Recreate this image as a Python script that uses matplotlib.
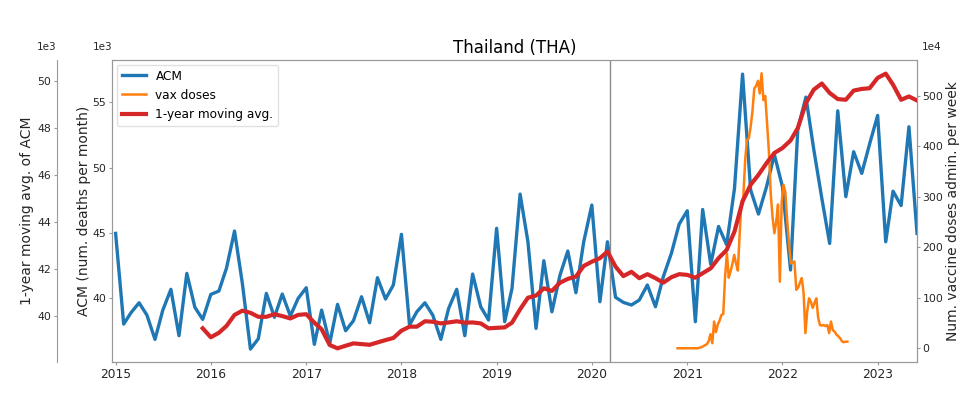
import matplotlib
matplotlib.use("Agg")
import matplotlib.pyplot as plt
import matplotlib.dates as mdates
import pandas as pd
import numpy as np

plt.rcParams['font.family'] = ['DejaVu Sans']

# ---- data ----
acm_start = "2015-01-01"
acm_thousands = [
    44.97, 38.03, 38.9, 39.66, 38.72, 36.86, 39.1, 40.69, 37.14, 41.91, 39.31, 38.39,
    40.3, 40.56, 42.3, 45.15, 41.15, 36.12, 36.9, 40.38, 38.55, 40.33, 38.65, 40.0,
    40.81, 36.48, 39.1, 36.56, 39.54, 37.52, 38.29, 40.12, 38.13, 41.58, 39.95, 41.02,
    44.9, 37.96, 38.97, 39.66, 38.72, 36.86, 39.23, 40.69, 37.14, 41.86, 39.36, 38.34,
    45.36, 38.21, 40.77, 47.98, 44.33, 37.7, 42.88, 38.97, 41.78, 43.62, 40.43, 44.33,
    47.14, 39.74, 44.33, 40.08, 39.69, 39.49, 39.87, 41.02, 39.36, 41.65, 43.44, 45.68,
    46.7, 38.21, 46.8, 42.6, 45.5, 44.1, 48.4, 57.16, 48.29, 46.45, 48.54, 51.0,
    48.54, 42.17, 53.0, 55.4, 51.4, 47.65, 44.2, 54.35, 47.78, 51.22, 49.56, 51.8,
    54.0, 44.33, 48.2, 47.1, 53.13, 44.97,
]

mavg_start = "2015-12-01"
mavg_thousands = [
    39.49,
    39.11, 39.30, 39.59, 40.06, 40.24, 40.15, 39.98, 39.98, 40.09, 40.01, 39.91, 40.06,
    40.09, 39.73, 39.45, 38.78, 38.64, 38.75, 38.85, 38.82, 38.79, 38.89, 38.99, 39.08,
    39.39, 39.56, 39.56, 39.79, 39.77, 39.70, 39.74, 39.79, 39.73, 39.74, 39.70, 39.49,
    39.51, 39.53, 39.73, 40.30, 40.79, 40.88, 41.19, 41.08, 41.43, 41.59, 41.69, 42.14,
    42.32, 42.47, 42.75, 42.11, 41.71, 41.89, 41.62, 41.79, 41.62, 41.43, 41.66, 41.79,
    41.76, 41.64, 41.83, 42.04, 42.47, 42.82, 43.60, 44.88, 45.59, 46.01, 46.51, 46.94,
    47.15, 47.47, 48.00, 49.06, 49.63, 49.89, 49.49, 49.23, 49.20, 49.59, 49.66, 49.69,
    50.13, 50.31, 49.84, 49.20, 49.34, 49.17,
]

vax_start = "2020-11-25"
vax_1e4 = [
    0, 0, 0, 0, 0, 0, 0, 0, 0, 0, 0, 0,
    1, 2, 4, 6, 8, 14, 28, 10, 53, 32, 47, 55, 66, 68,
    142, 188, 140, 152, 167, 185, 168, 154, 228, 290, 300, 373, 413, 416,
    439, 470, 515, 520, 530, 505, 545, 492, 500, 446, 390, 307, 260, 228,
    250, 285, 132, 290, 324, 310, 254, 208, 168, 170, 172, 116, 120, 130,
    139, 110, 30, 73, 99, 92, 80, 90, 99, 60, 46, 45, 46, 44, 46, 30,
    53, 36, 33, 27, 24, 20, 14, 12, 13, 13,
]

pandemic_date = "2020-03-11"
title = "Thailand (THA)"

# ---- figure ----
fig = plt.figure(figsize=(9.66, 3.97), dpi=100)
ax = fig.add_axes([0.1159, 0.0882, 0.8334, 0.7607])
ax2 = ax.twinx()
ax3 = ax.twinx()

acm_dates = pd.date_range(acm_start, periods=len(acm_thousands), freq="MS")
mavg_dates = pd.date_range(mavg_start, periods=len(mavg_thousands), freq="MS")
vax_dates = pd.date_range(vax_start, periods=len(vax_1e4), freq="7D")

l1, = ax.plot(acm_dates, acm_thousands, color="#1f77b4", lw=2.4, label="ACM")
l2, = ax2.plot(vax_dates, vax_1e4, color="#ff7f0e", lw=1.8, label="vax doses")
l3, = ax3.plot(mavg_dates, mavg_thousands, color="#d62728", lw=3.0, label="1-year moving avg.")
ax.axvline(pd.Timestamp(pandemic_date), color="0.55", lw=1.0)

ax.set_xlim(pd.Timestamp("2014-12-18"), pd.Timestamp("2023-06-01"))
ax.set_ylim(35.13, 58.24)
ax.set_yticks([40, 45, 50, 55])
ax2.set_ylim(-27.2, 571.4)
ax2.set_yticks([0, 100, 200, 300, 400, 500])
ax3.set_ylim(38.06, 50.89)
ax3.set_yticks([40, 42, 44, 46, 48, 50])

ax.xaxis.set_major_locator(mdates.YearLocator())
ax.xaxis.set_major_formatter(mdates.DateFormatter("%Y"))

spine_c = "0.6"
txt_c = "#262626"
for a in (ax, ax2, ax3):
    for s in a.spines.values():
        s.set_color(spine_c)
    a.tick_params(colors=spine_c, labelcolor=txt_c, length=2.5)

ax.tick_params(axis="x", labelsize=8.8, pad=2)
for a in (ax, ax2, ax3):
    a.tick_params(axis="y", labelsize=7.8, pad=1.5)

# outer left axis for moving average
ax3.spines["left"].set_position(("axes", -0.0687))
ax3.spines["left"].set_visible(True)
ax3.spines["right"].set_visible(False)
ax3.spines["top"].set_visible(False)
ax3.spines["bottom"].set_visible(False)
ax3.yaxis.set_ticks_position("left")
ax3.yaxis.set_label_position("left")

ax.set_ylabel("ACM (num. deaths per month)", fontsize=10, color=txt_c, labelpad=1)
ax3.set_ylabel("1-year moving avg. of ACM", fontsize=10, color=txt_c, labelpad=2)
ax2.set_ylabel("Num. vaccine doses admin. per week", fontsize=10, color=txt_c, labelpad=2)
ax.set_title(title, fontsize=12, color="black", pad=5)

# offset texts
ax.text(0.0, 1.025, "1e3", transform=ax.transAxes, ha="right", va="bottom", fontsize=7.5, color=txt_c)
ax.text(-0.0687, 1.025, "1e3", transform=ax.transAxes, ha="right", va="bottom", fontsize=7.5, color=txt_c)
ax.text(1.006, 1.025, "1e4", transform=ax.transAxes, ha="left", va="bottom", fontsize=7.5, color=txt_c)

leg = ax3.legend(handles=[l1, l2, l3], loc="upper left", fontsize=8.7,
                 frameon=True, borderaxespad=0.4)
leg.get_frame().set_edgecolor("0.85")

fig.savefig("out.png", dpi=100)
